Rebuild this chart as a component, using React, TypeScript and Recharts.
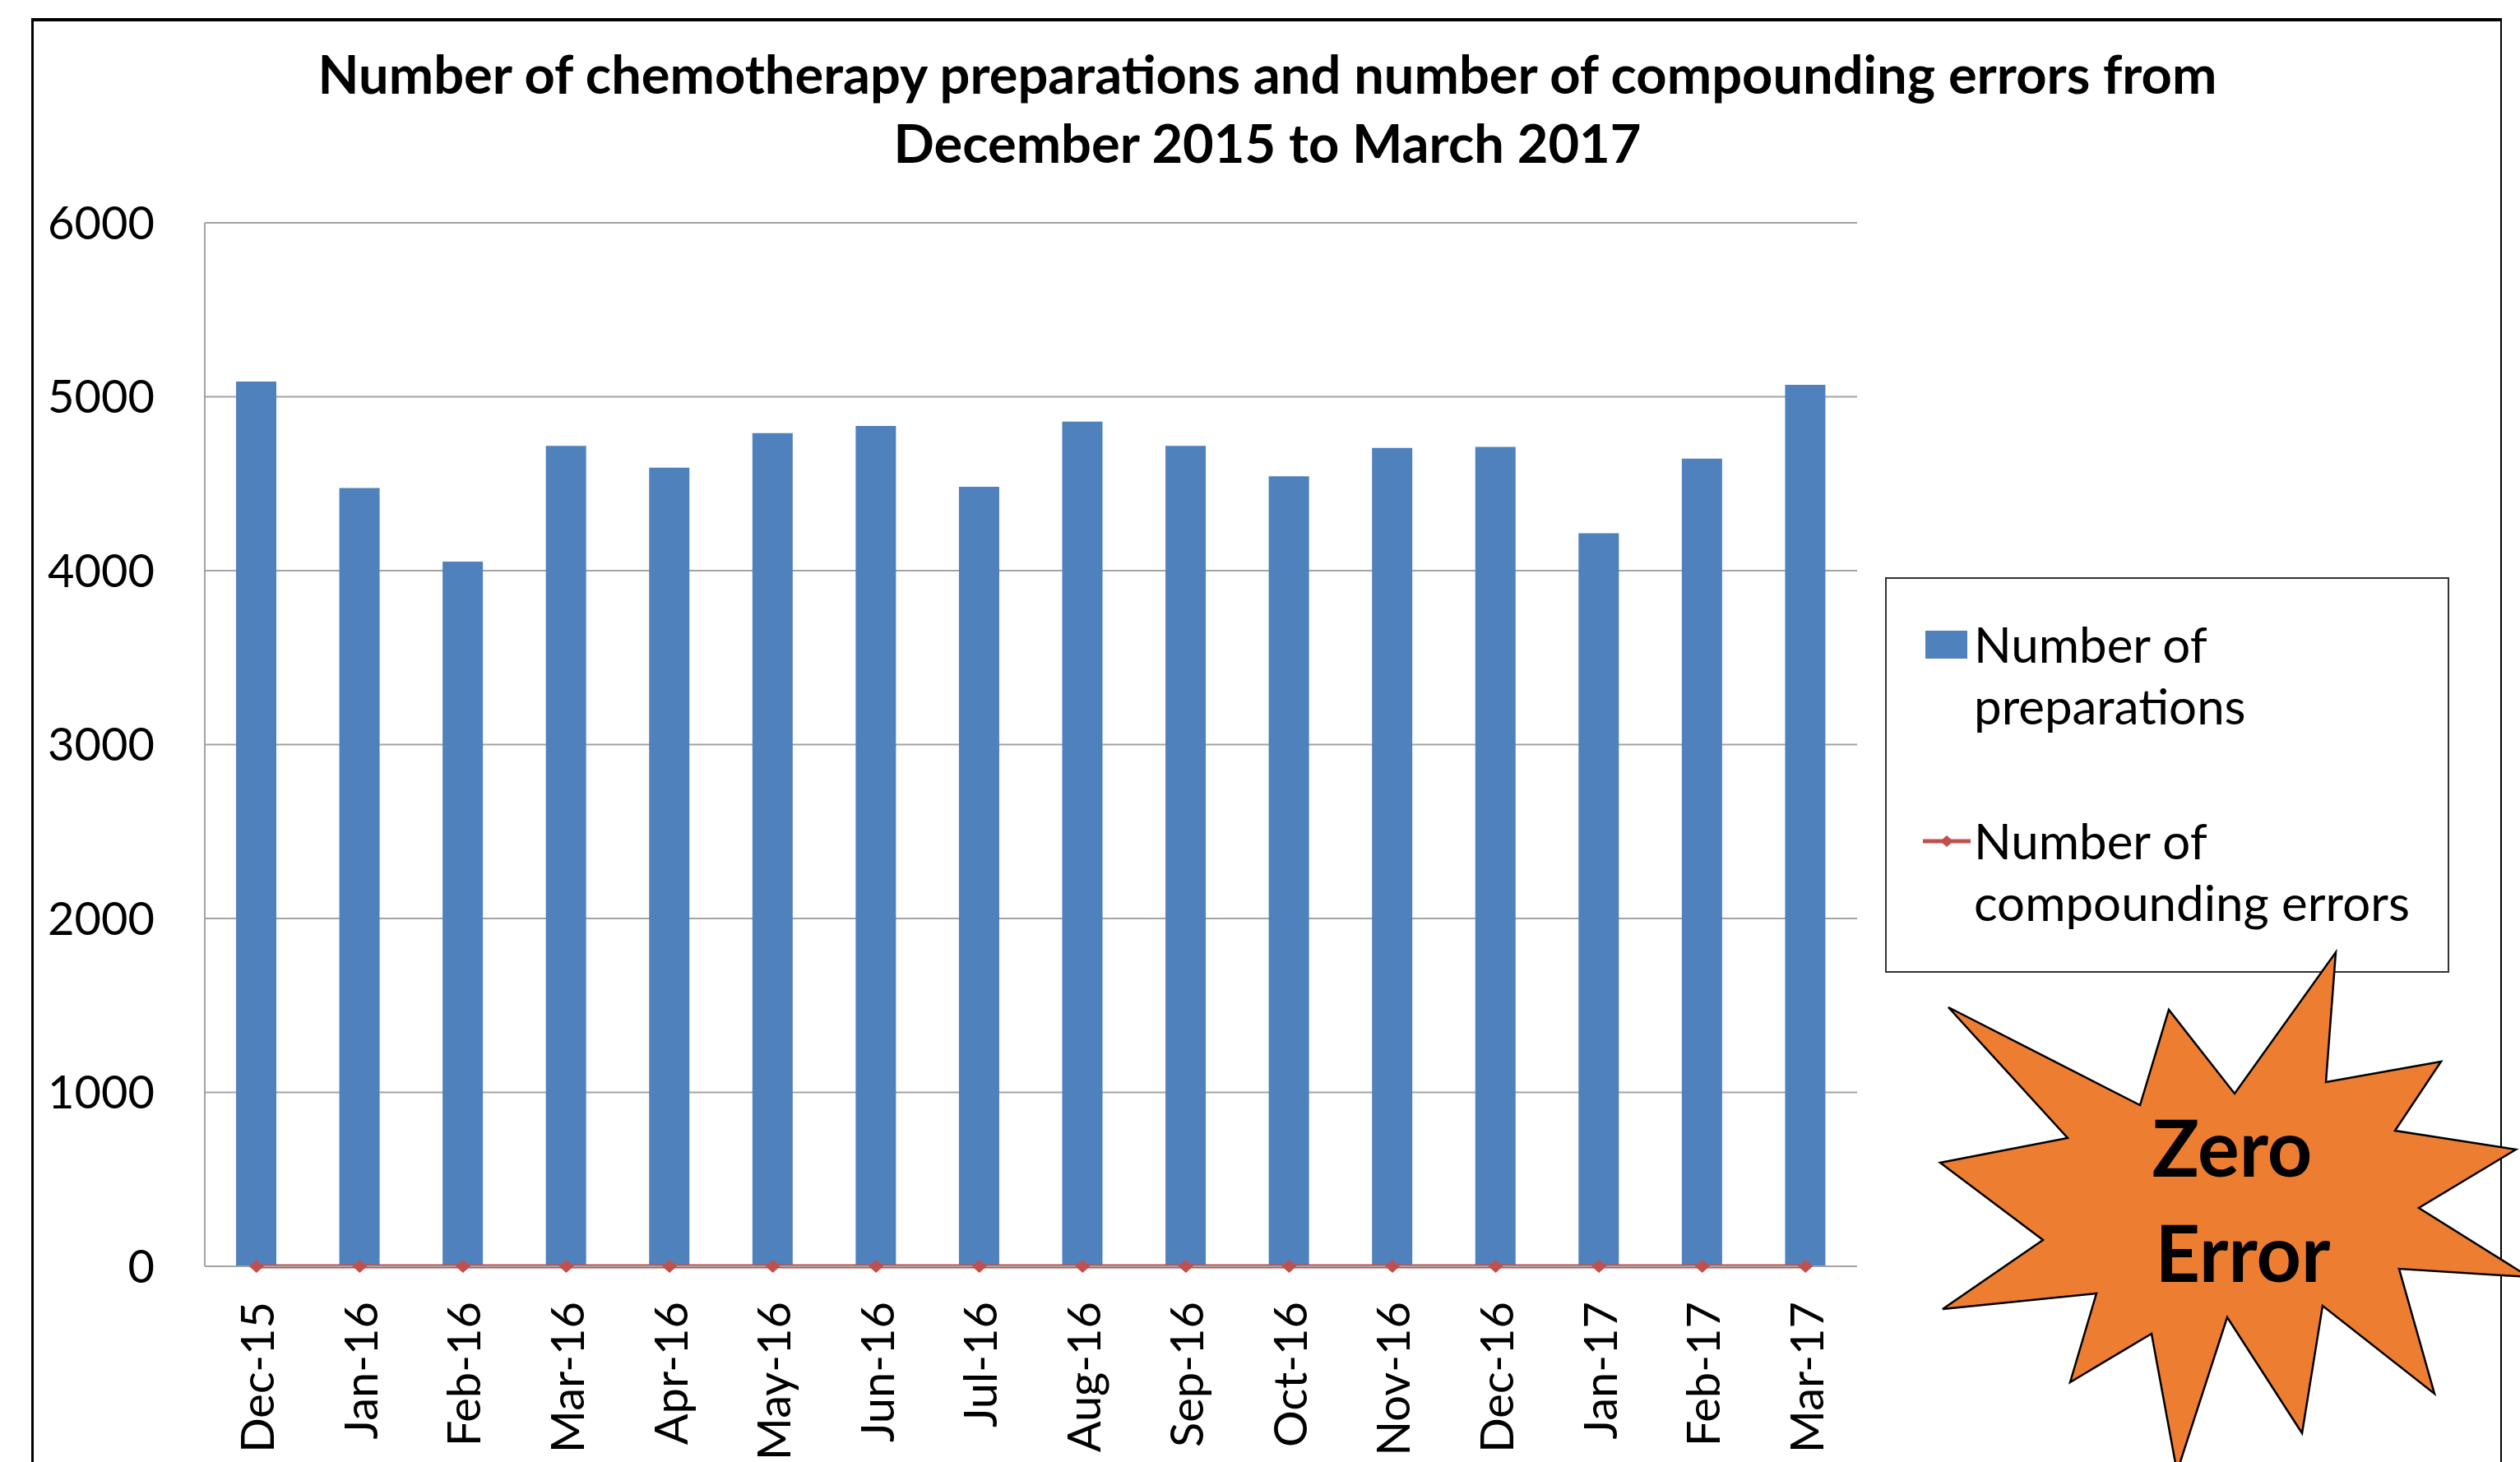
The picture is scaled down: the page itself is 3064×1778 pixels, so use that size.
import { ComposedChart, Bar, Line, XAxis, YAxis, CartesianGrid, Legend } from 'recharts'

const months = [
  'Dec-15', 'Jan-16', 'Feb-16', 'Mar-16', 'Apr-16', 'May-16', 'Jun-16', 'Jul-16',
  'Aug-16', 'Sep-16', 'Oct-16', 'Nov-16', 'Dec-16', 'Jan-17', 'Feb-17', 'Mar-17',
]
const preparations = [5087, 4475, 4052, 4717, 4592, 4791, 4832, 4482, 4857, 4718, 4542, 4706, 4711, 4215, 4644, 5069]
const errors = [0, 0, 0, 0, 0, 0, 0, 0, 0, 0, 0, 0, 0, 0, 0, 0]
const yTicks = [0, 1000, 2000, 3000, 4000, 5000, 6000]

const seriesOrder = ['preparations', 'errors']

const data = months.map((month, i) => ({
  month,
  preparations: preparations[i],
  errors: errors[i],
}))

const FONT = 'Lato, "Open Sans", sans-serif'
const BLUE = '#4F81BD'
const RED = '#C0504D'
const ORANGE = '#ED7D31'
const GRID = '#A3A3A3'

// outline of the "Zero Error" burst, page pixels
const burst = [
  [2369, 1225], [2602, 1344], [2637, 1228], [2717, 1330], [2840, 1158], [2828, 1316],
  [2968, 1291], [2912, 1375], [3059, 1398], [2941, 1469], [3075, 1553], [2917, 1543],
  [2960, 1695], [2824, 1588], [2799, 1743], [2708, 1602], [2647, 1790], [2616, 1622],
  [2517, 1681], [2549, 1573], [2362, 1592], [2484, 1508], [2359, 1414], [2514, 1384],
]

function MonthTick({ x, y, payload }: any) {
  const ty = y + 43
  return (
    <text
      x={x}
      y={ty}
      transform={`rotate(-90 ${x} ${ty})`}
      textAnchor="end"
      dominantBaseline="central"
      fontSize={56}
      fontFamily={FONT}
      fill="#000"
    >
      {payload.value}
    </text>
  )
}

function Diamond(props: any) {
  const { cx, cy, index } = props
  if (cx == null || cy == null) return <g key={index} />
  return (
    <path
      key={index}
      d={`M${cx - 9},${cy} L${cx},${cy - 8} L${cx + 9},${cy} L${cx},${cy + 8} Z`}
      fill={RED}
    />
  )
}

function LegendBox({ payload }: any) {
  const items = [...(payload || [])].sort(
    (a: any, b: any) => seriesOrder.indexOf(a.dataKey) - seriesOrder.indexOf(b.dataKey)
  )
  return (
    <div
      style={{
        width: 686,
        height: 481,
        boxSizing: 'border-box',
        border: '2px solid #333',
        background: '#fff',
        position: 'relative',
        fontFamily: FONT,
        fontSize: 60,
        lineHeight: '75px',
        color: '#000',
      }}
    >
      {items.map((entry: any, i: number) => {
        const top = i === 0 ? 42 : 281
        return (
          <div key={entry.dataKey} style={{ position: 'absolute', left: 0, top, width: 680 }}>
            {entry.type === 'rect' ? (
              <div style={{ position: 'absolute', left: 47, top: 21, width: 51, height: 34, background: entry.color }} />
            ) : (
              <svg style={{ position: 'absolute', left: 44, top: 28 }} width={60} height={20}>
                <line x1={0} y1={10} x2={58} y2={10} stroke={entry.color} strokeWidth={5} />
                <path d="M21,10 L29,3 L37,10 L29,17 Z" fill={entry.color} />
              </svg>
            )}
            <div style={{ position: 'absolute', left: 106, top: 0, whiteSpace: 'pre-line' }}>
              {entry.value.replace('of ', 'of\n')}
            </div>
          </div>
        )
      })}
    </div>
  )
}

export default function App() {
  return (
    <div
      style={{
        position: 'absolute',
        left: 0,
        top: 0,
        width: 3064,
        height: 1778,
        overflow: 'hidden',
        background: '#fff',
      }}
    >
      {/* chart frame */}
      <div
        style={{
          position: 'absolute',
          left: 38,
          top: 22,
          width: 3004,
          height: 1800,
          boxSizing: 'border-box',
          borderTop: '4px solid #000',
          borderLeft: '3px solid #000',
          borderRight: '2px solid #000',
        }}
      />
      <div
        style={{
          position: 'absolute',
          left: 40,
          top: 47,
          width: 3002,
          textAlign: 'center',
          fontFamily: FONT,
          fontWeight: 700,
          fontSize: 65,
          lineHeight: '84px',
          color: '#000',
        }}
      >
        Number of chemotherapy preparations and number of compounding errors from
        <br />
        December 2015 to March 2017
      </div>

      <div style={{ position: 'absolute', left: 0, top: 0 }}>
        <ComposedChart
          width={3064}
          height={1778}
          data={data}
          margin={{ top: 271, right: 806, bottom: 0, left: 0 }}
        >
          <CartesianGrid vertical={false} stroke={GRID} strokeWidth={2} />
          <XAxis
            dataKey="month"
            height={238}
            interval={0}
            tickLine={false}
            tickSize={0}
            tickMargin={0}
            axisLine={{ stroke: GRID, strokeWidth: 2 }}
            tick={<MonthTick />}
          />
          <YAxis
            width={249}
            domain={[0, 6000]}
            ticks={yTicks}
            tickLine={false}
            tickSize={0}
            tickMargin={61}
            axisLine={{ stroke: GRID, strokeWidth: 2 }}
            tick={{ fontSize: 56, fill: '#000', fontFamily: FONT }}
          />
          <Legend
            layout="vertical"
            align="center"
            verticalAlign="middle"
            wrapperStyle={{ left: 2292, top: 702, width: 686, height: 481 }}
            content={<LegendBox />}
          />
          <Bar
            dataKey="preparations"
            name="Number of preparations"
            fill={BLUE}
            barSize={49}
            legendType="rect"
            isAnimationActive={false}
          />
          <Line
            dataKey="errors"
            name="Number of compounding errors"
            stroke={RED}
            strokeWidth={5}
            dot={Diamond}
            activeDot={false}
            legendType="line"
            isAnimationActive={false}
          />
        </ComposedChart>
      </div>

      {/* "Zero Error" burst */}
      <svg
        width={3064}
        height={1778}
        style={{ position: 'absolute', left: 0, top: 0, pointerEvents: 'none' }}
      >
        <polygon
          points={burst.map(p => p.join(',')).join(' ')}
          fill={ORANGE}
          stroke="#000"
          strokeWidth={2.5}
          strokeLinejoin="miter"
        />
        <text x={2714} y={1431} textAnchor="middle" fontFamily={FONT} fontWeight={700} fontSize={95} fill="#000">
          Zero
        </text>
        <text x={2727} y={1559} textAnchor="middle" fontFamily={FONT} fontWeight={700} fontSize={95} fill="#000">
          Error
        </text>
      </svg>
    </div>
  )
}
